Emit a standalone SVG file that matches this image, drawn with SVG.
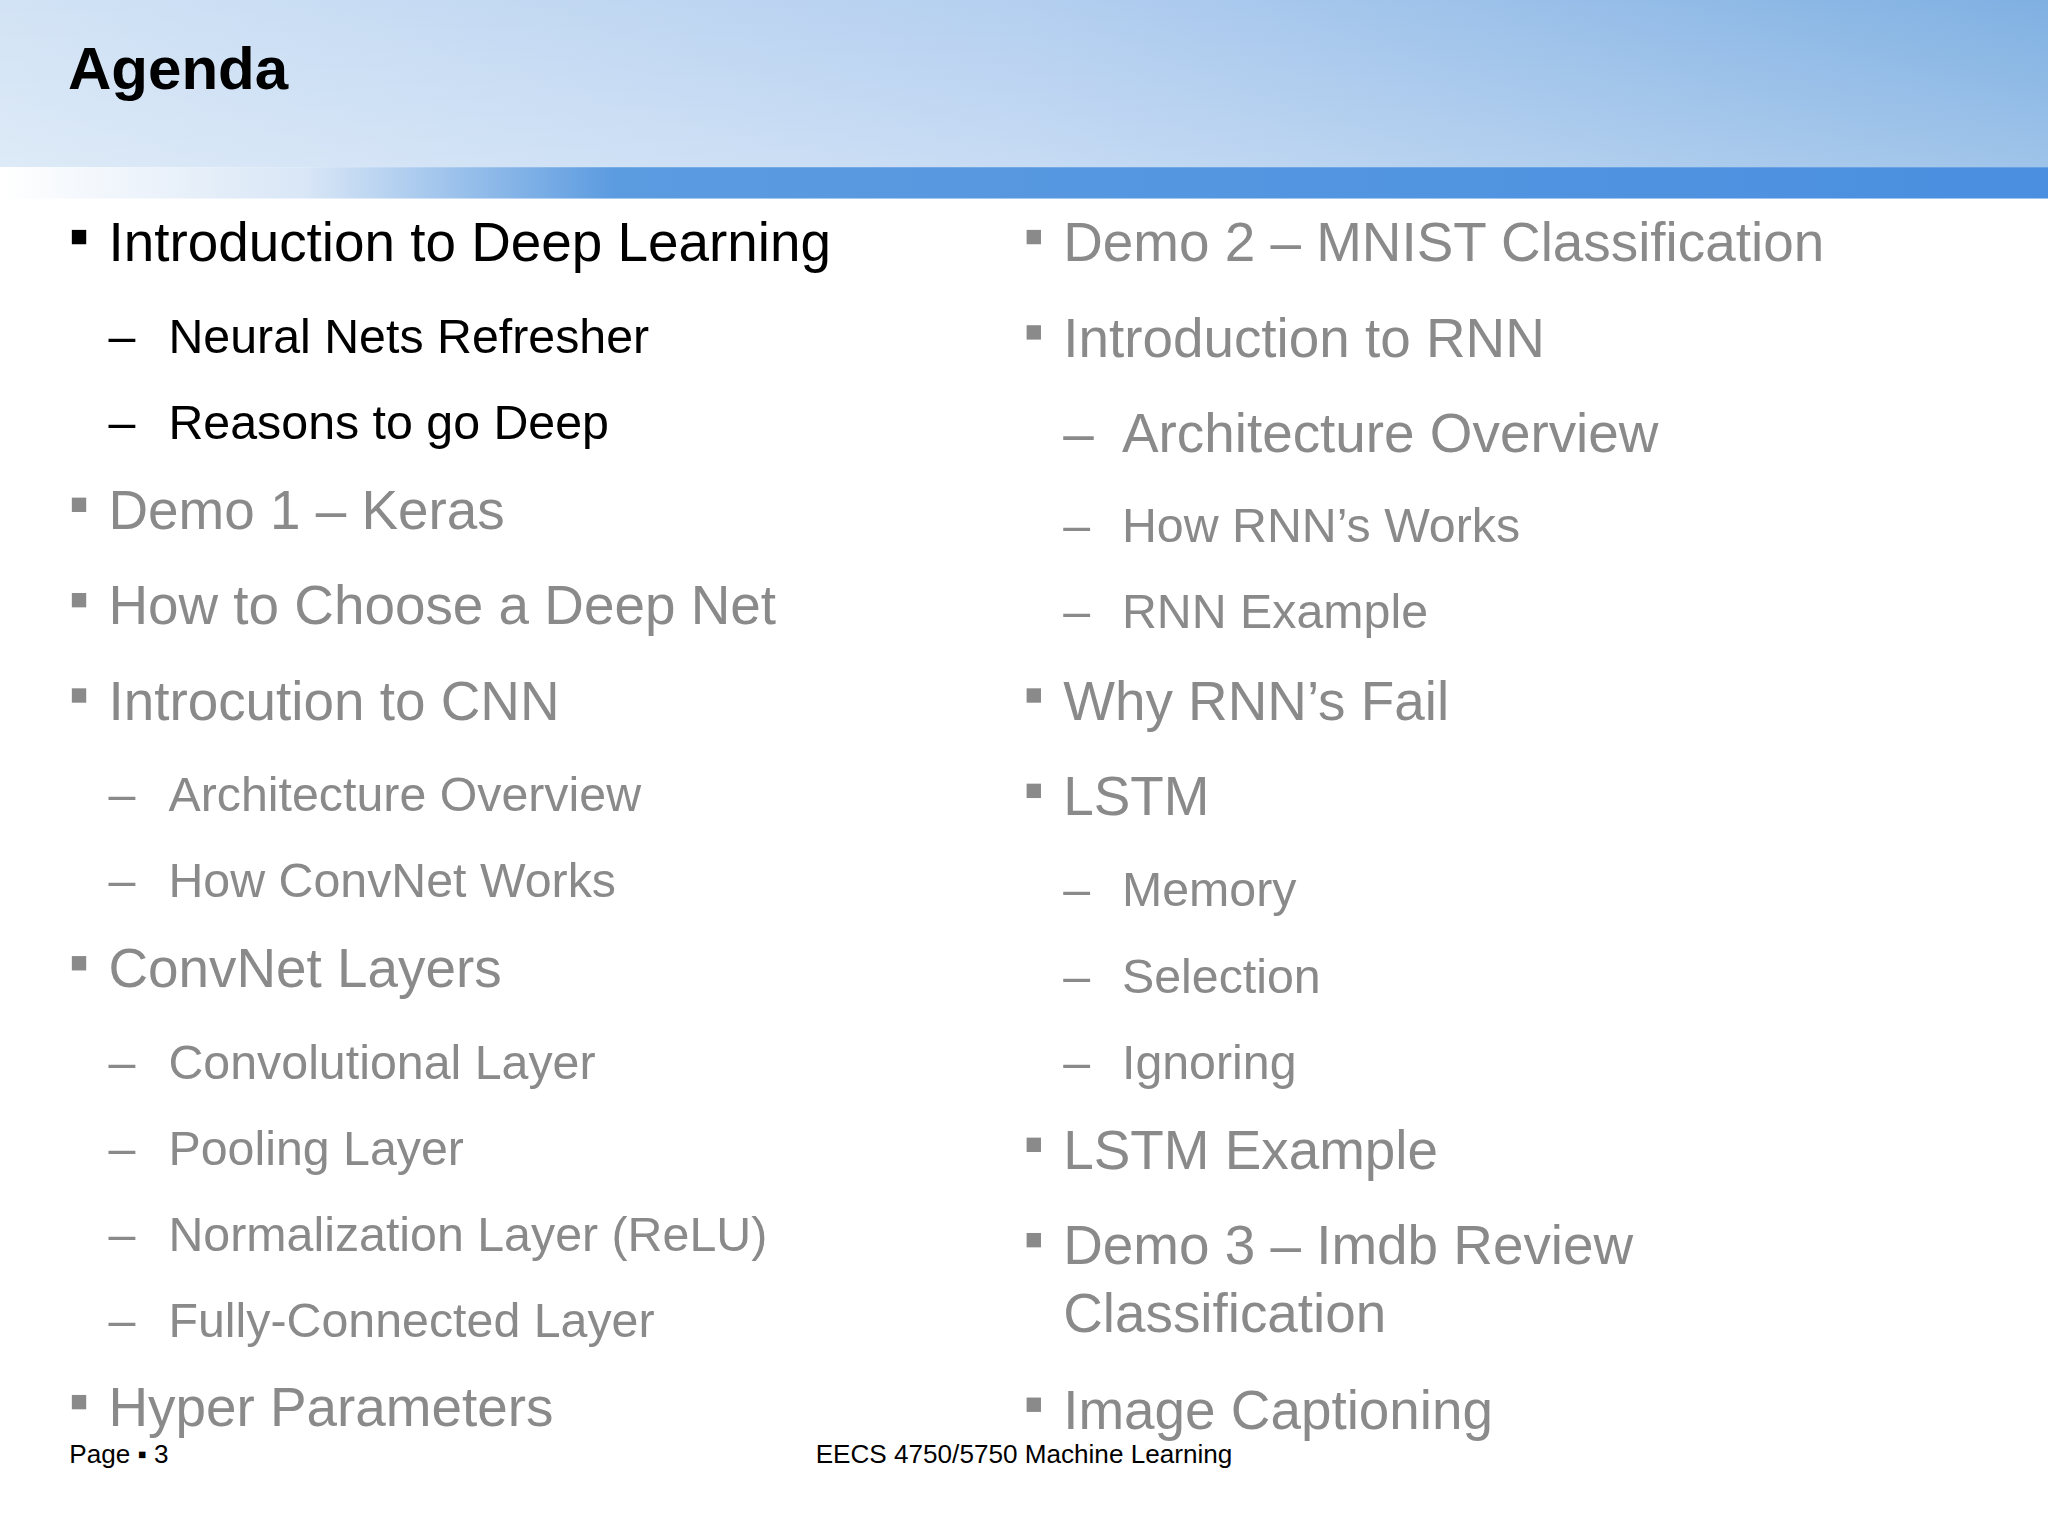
<svg xmlns="http://www.w3.org/2000/svg" width="2048" height="1536" viewBox="0 0 2048 1536">
<defs>
<linearGradient id="hdr" x1="0" y1="0" x2="1" y2="0"><stop offset="0" stop-color="#d2e3f5"/><stop offset="0.5" stop-color="#b4cff0"/><stop offset="1" stop-color="#7fb0e2"/></linearGradient>
<linearGradient id="hv" x1="0" y1="0" x2="0" y2="1"><stop offset="0" stop-color="#fff" stop-opacity="0"/><stop offset="1" stop-color="#fff" stop-opacity="0.25"/></linearGradient>
<linearGradient id="bar" x1="0" y1="0" x2="1" y2="0"><stop offset="0" stop-color="#ffffff"/><stop offset="0.15" stop-color="#d8e6f6"/><stop offset="0.3" stop-color="#5b9be0"/><stop offset="1" stop-color="#4a8fe0"/></linearGradient>
</defs>
<style>
text{font-family:"Liberation Sans",Arial,sans-serif}
.m{font-size:42px}.s{font-size:37px}
.k{fill:#000}.g{fill:#8a8a8a}
.bk{fill:#000}.bg{fill:#8a8a8a}
</style>
<rect width="2048" height="1536" fill="#fff"/>
<g transform="scale(1.30612)">
<rect x="0" y="0" width="1568" height="128" fill="url(#hdr)"/>
<rect x="0" y="0" width="1568" height="128" fill="url(#hv)"/>
<rect x="0" y="128" width="1568" height="24" fill="url(#bar)"/>
<text x="52" y="68" font-size="46" font-weight="bold" fill="#000">Agenda</text>
<g id="left">
<rect class="bk" x="55" y="176" width="11" height="11"/><text class="m k" x="83" y="200">Introduction to Deep Learning</text>
<text class="s k" x="83" y="270">–</text><text class="s k" x="129" y="270">Neural Nets Refresher</text>
<text class="s k" x="83" y="336">–</text><text class="s k" x="129" y="336">Reasons to go Deep</text>
<rect class="bg" x="55" y="381" width="11" height="11"/><text class="m g" x="83" y="405">Demo 1 – Keras</text>
<rect class="bg" x="55" y="454" width="11" height="11"/><text class="m g" x="83" y="478">How to Choose a Deep Net</text>
<rect class="bg" x="55" y="527" width="11" height="11"/><text class="m g" x="83" y="551">Introcution to CNN</text>
<text class="s g" x="83" y="621">–</text><text class="s g" x="129" y="621">Architecture Overview</text>
<text class="s g" x="83" y="687">–</text><text class="s g" x="129" y="687">How ConvNet Works</text>
<rect class="bg" x="55" y="732" width="11" height="11"/><text class="m g" x="83" y="756">ConvNet Layers</text>
<text class="s g" x="83" y="826">–</text><text class="s g" x="129" y="826">Convolutional Layer</text>
<text class="s g" x="83" y="892">–</text><text class="s g" x="129" y="892">Pooling Layer</text>
<text class="s g" x="83" y="958">–</text><text class="s g" x="129" y="958">Normalization Layer (ReLU)</text>
<text class="s g" x="83" y="1024">–</text><text class="s g" x="129" y="1024">Fully-Connected Layer</text>
<rect class="bg" x="55" y="1068" width="11" height="11"/><text class="m g" x="83" y="1092">Hyper Parameters</text>
</g>
<g id="right">
<rect class="bg" x="786" y="176" width="11" height="11"/><text class="m g" x="814" y="200">Demo 2 – MNIST Classification</text>
<rect class="bg" x="786" y="249" width="11" height="11"/><text class="m g" x="814" y="273">Introduction to RNN</text>
<text class="m g" x="814" y="346" font-size="40">–</text><text class="m g" x="859" y="346">Architecture Overview</text>
<text class="s g" x="814" y="415">–</text><text class="s g" x="859" y="415">How RNN’s Works</text>
<text class="s g" x="814" y="481">–</text><text class="s g" x="859" y="481">RNN Example</text>
<rect class="bg" x="786" y="527" width="11" height="11"/><text class="m g" x="814" y="551">Why RNN’s Fail</text>
<rect class="bg" x="786" y="600" width="11" height="11"/><text class="m g" x="814" y="624">LSTM</text>
<text class="s g" x="814" y="694">–</text><text class="s g" x="859" y="694">Memory</text>
<text class="s g" x="814" y="760">–</text><text class="s g" x="859" y="760">Selection</text>
<text class="s g" x="814" y="826">–</text><text class="s g" x="859" y="826">Ignoring</text>
<rect class="bg" x="786" y="871" width="11" height="11"/><text class="m g" x="814" y="895">LSTM Example</text>
<rect class="bg" x="786" y="944" width="11" height="11"/><text class="m g" x="814" y="968">Demo 3 – Imdb Review</text>
<text class="m g" x="814" y="1020">Classification</text>
<rect class="bg" x="786" y="1070" width="11" height="11"/><text class="m g" x="814" y="1094">Image Captioning</text>
</g>
<text x="53" y="1120" font-size="20" fill="#000">Page ▪ 3</text>
<text x="784" y="1120" font-size="20" fill="#000" text-anchor="middle">EECS 4750/5750 Machine Learning</text>
</g>
</svg>
